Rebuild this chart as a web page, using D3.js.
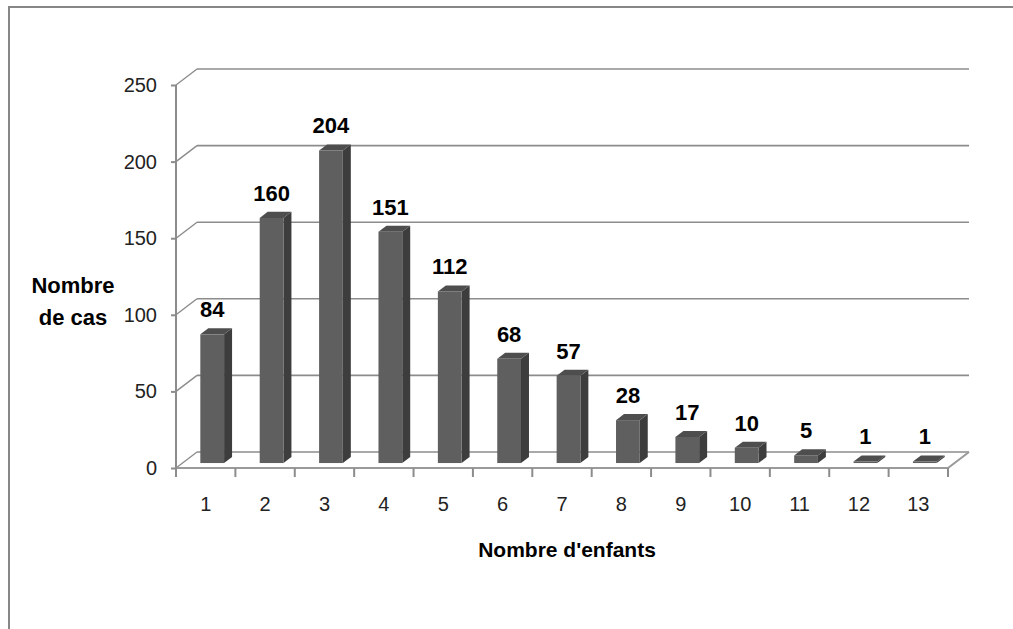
<!DOCTYPE html>
<html><head><meta charset="utf-8">
<script src="https://cdn.jsdelivr.net/npm/d3@7"></script>
<style>html,body{margin:0;padding:0;background:#fff;}svg{display:block;}</style>
</head><body>
<script>
const categories = ["1","2","3","4","5","6","7","8","9","10","11","12","13"];
const values = [84,160,204,151,112,68,57,28,17,10,5,1,1];
const yTicks = [0,50,100,150,200,250];
const yTitle = ["Nombre","de cas"];
const xTitle = "Nombre d'enfants";

const W = 1013, H = 629;
const svg = d3.select("body").append("svg").attr("width", W).attr("height", H);

// frame
svg.append("path").attr("d", `M9,${H} L9,7 L${W},7`).attr("fill","none").attr("stroke","#878787").attr("stroke-width",2);

const DX = 21, DY = 16;   // depth offsets
const x = d3.scaleBand().domain(categories).range([176, 948]).paddingInner(0).paddingOuter(0);
const y = d3.scaleLinear().domain([0, 250]).range([468, 85]);
const gridCol = "#8c8c8c";
const FONT = "Liberation Sans, Arial, sans-serif";

// back wall gridlines + side connectors
const g = svg.append("g");
yTicks.forEach(v => {
  g.append("line").attr("x1", 176 + DX).attr("x2", 948 + DX)
    .attr("y1", y(v) - DY).attr("y2", y(v) - DY)
    .attr("stroke", gridCol).attr("stroke-width", 1.6);
  g.append("line").attr("x1", 176).attr("y1", y(v))
    .attr("x2", 176 + DX).attr("y2", y(v) - DY)
    .attr("stroke", gridCol).attr("stroke-width", 1.4);
});
// floor front & right edge
g.append("path").attr("d", `M176,${y(0)} L948,${y(0)} L${948+DX},${y(0)-DY}`)
  .attr("fill","none").attr("stroke","#9a9a9a").attr("stroke-width",2);

// bars
const tF = 0.31, tB = 0.69;
const bw = x.bandwidth() * 0.40;
const bars = svg.append("g");
categories.forEach((c, i) => {
  const v = values[i];
  const xl = x(c) + (x.bandwidth() - bw) / 2 + tF * DX;
  const xr = xl + bw;
  const yb = y(0) - tF * DY;
  const yt = y(v) - tF * DY;
  const ddx = (tB - tF) * DX, ddy = (tB - tF) * DY;
  bars.append("polygon").attr("points", [[xr,yt],[xr+ddx,yt-ddy],[xr+ddx,yb-ddy],[xr,yb]].join(" "))
    .attr("fill", "#3d3d3d");
  bars.append("polygon").attr("points", [[xl,yt],[xl+ddx,yt-ddy],[xr+ddx,yt-ddy],[xr,yt]].join(" "))
    .attr("fill", "#4e4e4e");
  bars.append("rect").attr("x", xl).attr("y", yt).attr("width", bw).attr("height", yb - yt)
    .attr("fill", "#5f5f5f");
  svg.append("text").attr("x", (xl + xr) / 2).attr("y", yt - ddy - 11)
    .attr("text-anchor", "middle").attr("font-family", FONT)
    .attr("font-weight", "bold").attr("font-size", 22).attr("fill", "#000").text(v);
});

// y axis
const yAxis = svg.append("g").attr("transform", "translate(176,0)")
  .call(d3.axisLeft(y).tickValues(yTicks).tickSize(5).tickPadding(14));
yAxis.select(".domain").attr("stroke", gridCol).attr("stroke-width", 2).attr("d", `M0,${y(250)}V${y(0)}`);
yAxis.selectAll(".tick line").attr("stroke", gridCol).attr("stroke-width", 2);
yAxis.selectAll(".tick text").attr("font-family", FONT)
  .attr("font-size", 20).attr("fill", "#222");

// x axis
const xAxis = svg.append("g").attr("transform", `translate(0,${y(0)})`)
  .call(d3.axisBottom(x).tickSize(0).tickPadding(29));
xAxis.select(".domain").remove();
xAxis.selectAll(".tick text").attr("font-family", FONT)
  .attr("font-size", 20).attr("fill", "#222");
const bounds = categories.map(c => x(c)).concat([x(categories[categories.length-1]) + x.bandwidth()]);
xAxis.selectAll("line.sep").data(bounds).enter().append("line").attr("class","sep")
  .attr("x1", d => d).attr("x2", d => d).attr("y1", 0).attr("y2", 9)
  .attr("stroke", gridCol).attr("stroke-width", 2);

// titles
yTitle.forEach((t, i) => {
  svg.append("text").attr("x", 73).attr("y", 293 + i * 32).attr("text-anchor", "middle")
    .attr("font-family", FONT).attr("font-weight", "bold")
    .attr("font-size", 22).attr("fill", "#000").text(t);
});
svg.append("text").attr("x", 567).attr("y", 557).attr("text-anchor", "middle")
  .attr("font-family", FONT).attr("font-weight", "bold")
  .attr("font-size", 21).attr("fill", "#000").text(xTitle);
</script>
</body></html>
